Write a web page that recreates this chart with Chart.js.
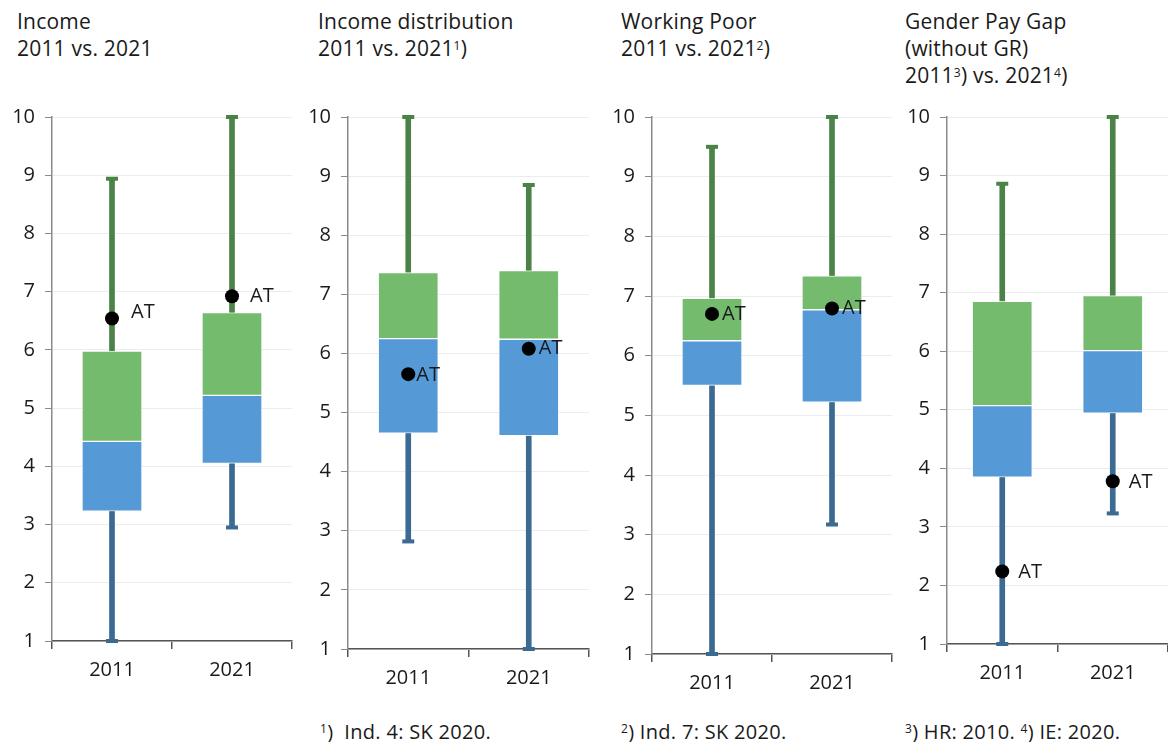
<!DOCTYPE html>
<html>
<head>
<meta charset="utf-8">
<script src="https://cdn.jsdelivr.net/npm/chart.js@4"></script>
<style>
  html, body { margin:0; padding:0; background:#fff; }
  body { width:1168px; height:742px; position:relative; overflow:hidden; font-family:"Open Sans", sans-serif; color:#1a1a1a; }
  .title { position:absolute; font-size:21px; line-height:27px; letter-spacing:0.2px; white-space:nowrap; }
  .title sup, .note sup { font-size:12px; vertical-align:6px; line-height:0; }
  .note { position:absolute; font-size:20px; letter-spacing:0.3px; white-space:nowrap; top:718px; }
  canvas { position:absolute; }
</style>
</head>
<body>
<div class="title" style="left:17px;top:8px">Income<br>2011 vs. 2021</div>
<div class="title" style="left:318px;top:8px">Income distribution<br>2011 vs. 2021<sup>1</sup>)</div>
<div class="title" style="left:621px;top:8px">Working Poor<br>2011 vs. 2021<sup>2</sup>)</div>
<div class="title" style="left:905px;top:8px">Gender Pay Gap<br>(without GR)<br>2011<sup>3</sup>) vs. 2021<sup>4</sup>)</div>
<div class="note" style="left:320px"><sup>1</sup>)&nbsp; Ind. 4: SK 2020.</div>
<div class="note" style="left:621px"><sup>2</sup>) Ind. 7: SK 2020.</div>
<div class="note" style="left:905px"><sup>3</sup>) HR: 2010. <sup>4</sup>) IE: 2020.</div>

<canvas id="c1"></canvas>
<canvas id="c2"></canvas>
<canvas id="c3"></canvas>
<canvas id="c4"></canvas>

<script>
// ---- data ----
const categories = ['2011', '2021'];
const yTicks = [1, 2, 3, 4, 5, 6, 7, 8, 9, 10];

const incomeMin = [1.0, 2.95];
const incomeQ1  = [3.23, 4.05];
const incomeMed = [4.43, 5.22];
const incomeQ3  = [5.98, 6.64];
const incomeMax = [8.94, 10.0];
const incomeAT  = [6.54, 6.92];

const distMin = [2.82, 1.0];
const distQ1  = [4.65, 4.61];
const distMed = [6.25, 6.24];
const distQ3  = [7.37, 7.40];
const distMax = [10.0, 8.85];
const distAT  = [5.65, 6.08];

const poorMin = [1.0, 3.17];
const poorQ1  = [5.50, 5.22];
const poorMed = [6.25, 6.77];
const poorQ3  = [6.96, 7.34];
const poorMax = [9.50, 10.0];
const poorAT  = [6.70, 6.79];

const gapMin = [1.0, 3.23];
const gapQ1  = [3.85, 4.94];
const gapMed = [5.07, 6.01];
const gapQ3  = [6.85, 6.95];
const gapMax = [8.86, 10.0];
const gapAT  = [2.24, 3.78];

const atLabel = 'AT';

// ---- layout (positions / styles) ----
const panels = [
  { id:'c1', axisX:52,  right:290,  top:116, bottom:641, min:incomeMin, q1:incomeQ1, med:incomeMed, q3:incomeQ3, max:incomeMax, at:incomeAT, lblDx:[19,18], lblDy:[-6,0] },
  { id:'c2', axisX:348, right:587,  top:116, bottom:649, min:distMin,   q1:distQ1,   med:distMed,   q3:distQ3,   max:distMax,   at:distAT,   lblDx:[8,10],  lblDy:[1,0] },
  { id:'c3', axisX:652, right:890,  top:116, bottom:654, min:poorMin,   q1:poorQ1,   med:poorMed,   q3:poorQ3,   max:poorMax,   at:poorAT,   lblDx:[10,10], lblDy:[0,0] },
  { id:'c4', axisX:947, right:1166, top:116, bottom:644, min:gapMin,    q1:gapQ1,    med:gapMed,    q3:gapQ3,    max:gapMax,    at:gapAT,    lblDx:[16,16], lblDy:[1,1] }
];

const YW = 50, XH = 50, PADT = 16, PADR = 2;
const FIX_TOP = 5, FIX_RIGHT = 10;
const C = {
  boxGreen:'#74bb6e', boxBlue:'#559ad6',
  whiskGreen:'#4b8248', whiskBlue:'#3b6a92',
  grid:'#ececec', yAxis:'#8a8a8a', xAxis:'#555555', text:'#1a1a1a'
};
const FONT = '"Open Sans", sans-serif';

const atLabelPlugin = {
  id:'atLabels',
  afterDatasetsDraw(chart, args, opts) {
    const idx = chart.data.datasets.findIndex(d => d.isAT);
    const meta = chart.getDatasetMeta(idx);
    const ctx = chart.ctx;
    ctx.save();
    ctx.font = '20px ' + FONT;
    ctx.fillStyle = C.text;
    ctx.textBaseline = 'middle';
    ctx.textAlign = 'left';
    meta.data.forEach((pt, i) => {
      ctx.fillText(atLabel, pt.x + opts.dx[i], pt.y + opts.dy[i]);
    });
    ctx.restore();
  }
};

panels.forEach(p => {
  const cv = document.getElementById(p.id);
  const left = p.axisX - YW;
  const top = p.top - PADT - FIX_TOP;
  const w = p.right - left + PADR + FIX_RIGHT;
  const h = p.bottom - top + XH;
  cv.style.left = left + 'px';
  cv.style.top = top + 'px';
  cv.width = w; cv.height = h;
  cv.style.width = w + 'px'; cv.style.height = h + 'px';

  const pair = (a, b) => categories.map((_, i) => [a[i], b[i]]);

  new Chart(cv, {
    data: {
      labels: categories,
      datasets: [
        { type:'bar', data:pair(p.min, p.q1), backgroundColor:C.whiskBlue, barThickness:5, grouped:false, order:4 },
        { type:'bar', data:pair(p.q3, p.max), backgroundColor:C.whiskGreen, barThickness:5, grouped:false, order:4 },
        { type:'bar', data:pair(p.q1, p.med), backgroundColor:C.boxBlue, borderColor:'rgba(255,255,255,0.7)', borderWidth:1, borderSkipped:false, barThickness:60, grouped:false, order:3 },
        { type:'bar', data:pair(p.med, p.q3), backgroundColor:C.boxGreen, borderColor:'rgba(255,255,255,0.7)', borderWidth:1, borderSkipped:false, barThickness:60, grouped:false, order:3 },
        { type:'line', data:p.max, showLine:false, pointStyle:'line', pointRadius:6, pointHoverRadius:6, pointBorderWidth:4, borderColor:C.whiskGreen, backgroundColor:C.whiskGreen, clip:false, order:2 },
        { type:'line', data:p.min, showLine:false, pointStyle:'line', pointRadius:6, pointHoverRadius:6, pointBorderWidth:4, borderColor:C.whiskBlue, backgroundColor:C.whiskBlue, clip:false, order:2 },
        { type:'line', data:p.at, isAT:true, showLine:false, pointStyle:'circle', pointRadius:7, pointHoverRadius:7, pointBorderWidth:0, borderColor:'#000', backgroundColor:'#000', clip:false, order:1 }
      ]
    },
    options: {
      responsive:false,
      animation:false,
      devicePixelRatio:1,
      layout:{ padding:{ top:PADT, right:PADR, left:0, bottom:0 } },
      plugins:{ legend:{display:false}, tooltip:{enabled:false}, atLabels:{ dx:p.lblDx, dy:p.lblDy } },
      scales:{
        x:{
          offset:true,
          grid:{ offset:true, drawOnChartArea:false, tickLength:8, tickColor:C.xAxis, lineWidth:1.5 },
          border:{ color:C.xAxis, width:1.5 },
          ticks:{ font:{ size:20, family:FONT }, color:C.text, padding:9 },
          afterFit(s){ s.height = XH; }
        },
        y:{
          min:1, max:10,
          afterBuildTicks(s){ s.ticks = yTicks.map(v => ({ value:v })); },
          grid:{ color:C.grid, tickColor:C.yAxis, tickLength:7 },
          border:{ color:C.yAxis, width:1.5 },
          ticks:{ font:{ size:20, family:FONT }, color:C.text, padding:10 },
          afterFit(s){ s.width = YW; }
        }
      }
    },
    plugins:[atLabelPlugin]
  });
});
</script>
</body>
</html>
